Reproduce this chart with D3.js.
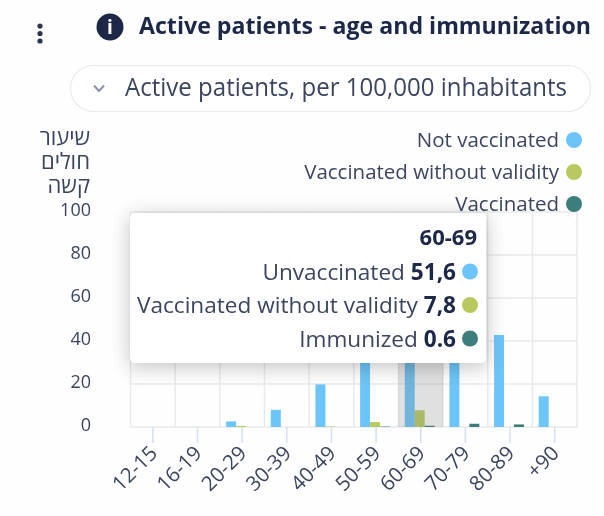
<!DOCTYPE html>
<html>
<head>
<meta charset="utf-8">
<script src="https://cdn.jsdelivr.net/npm/d3@7"></script>
<style>
  html, body { margin: 0; padding: 0; background: #fff; }
  svg { display: block; font-family: "Open Sans", sans-serif; filter: blur(0.5px); }
</style>
</head>
<body>
<div id="stage"></div>
<script>
const ageGroups = ['12-15', '16-19', '20-29', '30-39', '40-49', '50-59', '60-69', '70-79', '80-89', '+90'];
const notVaccinated = [0, 0, 2.6, 8, 19.8, 40, 51.6, 46, 42.8, 14.3];
const withoutValidity = [0, 0, 0.5, 0, 0.2, 2.3, 7.8, 0, 0, 0];
const vaccinated = [0, 0, 0, 0, 0, 0.2, 0.6, 1.5, 1.2, 0];
const seriesKeys = ['Not vaccinated', 'Vaccinated without validity', 'Vaccinated'];
const seriesValues = [notVaccinated, withoutValidity, vaccinated];
const yTicks = [0, 20, 40, 60, 80, 100];
const yTitle = ['שיעור', 'חולים', 'קשה'];
const highlightGroup = '60-69';
const tooltipNames = ['Unvaccinated', 'Vaccinated without validity', 'Immunized'];
const tooltipValues = ['51,6', '7,8', '0.6'];

const colors = ['#6cc5f8', '#b9c95f', '#3b7f7c'];
const textClr = '#3b4560';
const darkClr = '#1d2748';
const gridClr = '#e9e9ed';

const width = 604;
const height = 516;

const svg = d3.select('#stage').append('svg')
  .attr('width', width)
  .attr('height', height);

svg.append('defs').append('filter')
  .attr('id', 'tipShadow')
  .attr('x', '-20%').attr('y', '-20%').attr('width', '140%').attr('height', '140%')
  .append('feDropShadow')
  .attr('dx', 0).attr('dy', 4).attr('stdDeviation', 10)
  .attr('flood-color', '#000').attr('flood-opacity', 0.24);

svg.append('rect').attr('width', width).attr('height', height).attr('fill', '#fefefe');

// header
[26, 33.5, 41].forEach(y => {
  svg.append('circle').attr('cx', 40).attr('cy', y).attr('r', 2.6).attr('fill', '#2b3350');
});
svg.append('circle').attr('cx', 110).attr('cy', 27).attr('r', 13.5).attr('fill', darkClr);
svg.append('text').attr('x', 110).attr('y', 34).attr('text-anchor', 'middle')
  .attr('fill', '#fff').attr('font-size', 19).attr('font-weight', 700).text('i');
svg.append('text').attr('x', 139).attr('y', 34)
  .attr('fill', darkClr).attr('font-size', 23.5).attr('font-weight', 700)
  .attr('textLength', 452).attr('lengthAdjust', 'spacingAndGlyphs')
  .text('Active patients - age and immunization');

svg.append('rect').attr('x', 70.5).attr('y', 65.5).attr('width', 520).attr('height', 46).attr('rx', 23)
  .attr('fill', '#fff').attr('stroke', '#e8eaf0').attr('stroke-width', 1.2);
svg.append('path').attr('d', 'M94 85.5 L99 91 L104 85.5')
  .attr('fill', 'none').attr('stroke', '#8a93ab').attr('stroke-width', 2);
svg.append('text').attr('x', 125).attr('y', 96)
  .attr('fill', textClr).attr('font-size', 25)
  .attr('textLength', 442).attr('lengthAdjust', 'spacingAndGlyphs')
  .text('Active patients, per 100,000 inhabitants');

// scales
const x = d3.scaleBand().domain(ageGroups).range([130.5, 577]);
const xInner = d3.scaleBand().domain(seriesKeys).range([-1, x.bandwidth() - 1]).paddingOuter(0.74);
const y = d3.scaleLinear().domain([0, 100]).range([427, 212]);

// grid
svg.append('g').selectAll('line').data(yTicks).join('line')
  .attr('x1', 130.5).attr('x2', 577)
  .attr('y1', d => y(d)).attr('y2', d => y(d))
  .attr('stroke', gridClr).attr('stroke-width', 1.5);
svg.append('g').selectAll('line').data(ageGroups.concat('end')).join('line')
  .attr('x1', d => d === 'end' ? 577 : x(d)).attr('x2', d => d === 'end' ? 577 : x(d))
  .attr('y1', y(100)).attr('y2', y(0))
  .attr('stroke', gridClr).attr('stroke-width', 1.5);

// bars
seriesKeys.forEach((key, k) => {
  svg.append('g').selectAll('rect').data(seriesValues[k]).join('rect')
    .attr('x', (d, i) => x(ageGroups[i]) + xInner(key))
    .attr('y', d => y(d))
    .attr('width', xInner.bandwidth())
    .attr('height', d => y(0) - y(d))
    .attr('fill', colors[k]);
});

// hover band, sits over the bars, top edge stays under the tooltip
svg.append('rect')
  .attr('x', x(highlightGroup)).attr('y', y(90))
  .attr('width', x.bandwidth()).attr('height', y(0) - y(90))
  .attr('fill', '#808080').attr('fill-opacity', 0.24);

// axes
const xAxis = svg.append('g')
  .attr('transform', `translate(0,${y(0)})`)
  .call(d3.axisBottom(x).tickSize(16).tickSizeOuter(0));
xAxis.select('.domain').remove();
xAxis.selectAll('.tick line').attr('stroke', '#d5e0f2').attr('stroke-width', 1.5);
xAxis.selectAll('.tick text')
  .attr('font-family', '"Open Sans", sans-serif')
  .attr('font-size', 20.5)
  .attr('fill', textClr)
  .attr('text-anchor', 'end')
  .attr('dx', 3)
  .attr('dy', 9)
  .attr('y', 22)
  .attr('transform', 'rotate(-45 0 26)');

const yAxis = svg.append('g')
  .attr('transform', 'translate(91,0)')
  .call(d3.axisLeft(y).tickValues(yTicks).tickSize(0).tickPadding(0));
yAxis.select('.domain').remove();
yAxis.selectAll('.tick text')
  .attr('font-family', '"Open Sans", sans-serif')
  .attr('font-size', 18)
  .attr('fill', textClr)
  .attr('dy', '0.18em');

svg.append('g').selectAll('text').data(yTitle).join('text')
  .attr('x', 90)
  .attr('y', (d, i) => 145 + i * 24)
  .attr('text-anchor', 'end')
  .attr('fill', textClr)
  .attr('font-size', 22)
  .text(d => d);

// legend
const legend = svg.append('g').selectAll('g').data(seriesKeys).join('g')
  .attr('transform', (d, i) => `translate(0,${140 + i * 32})`);
legend.append('text')
  .attr('x', 559).attr('y', 7).attr('text-anchor', 'end')
  .attr('fill', textClr).attr('font-size', 20.5)
  .text(d => d);
legend.append('circle')
  .attr('cx', 574).attr('r', 8)
  .attr('fill', (d, i) => colors[i]);

// tooltip
const tip = svg.append('g');
tip.append('rect')
  .attr('x', 130).attr('y', 213).attr('width', 356).attr('height', 150).attr('rx', 5)
  .attr('fill', '#fff')
  .attr('filter', 'url(#tipShadow)');
tip.append('text')
  .attr('x', 477).attr('y', 245).attr('text-anchor', 'end')
  .attr('fill', darkClr).attr('font-size', 22).attr('font-weight', 700)
  .text(highlightGroup);
const rows = tip.selectAll('.row').data(tooltipNames).join('g')
  .attr('class', 'row')
  .attr('transform', (d, i) => `translate(0,${271.5 + i * 33.5})`);
const rowText = rows.append('text')
  .attr('x', 456).attr('y', 8).attr('text-anchor', 'end')
  .attr('fill', textClr).attr('font-size', 22.6);
rowText.append('tspan').text(d => d + ' ');
rowText.append('tspan')
  .attr('fill', darkClr).attr('font-weight', 700)
  .text((d, i) => tooltipValues[i]);
rows.append('circle')
  .attr('cx', 470).attr('r', 8)
  .attr('fill', (d, i) => colors[i]);
</script>
</body>
</html>
